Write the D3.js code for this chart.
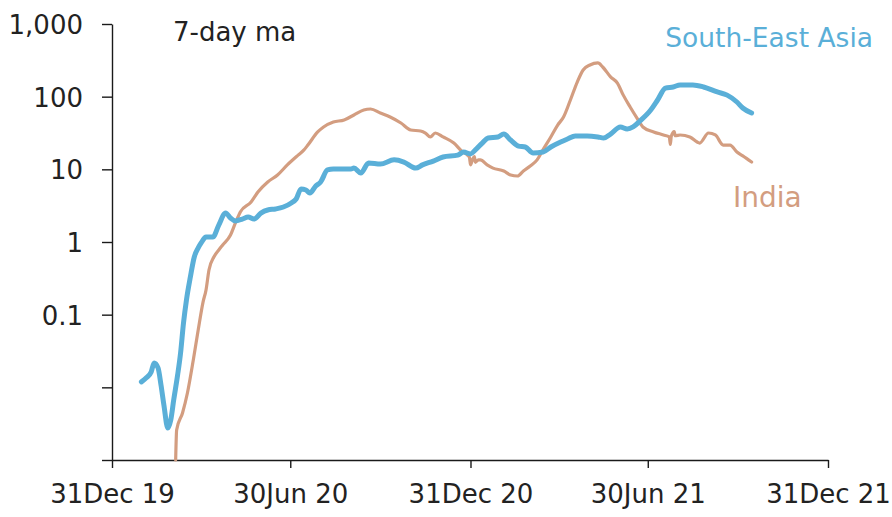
<!DOCTYPE html>
<html>
<head>
<meta charset="utf-8">
<script src="https://cdn.jsdelivr.net/npm/d3@7"></script>
<style>
  body { margin: 0; background: #fff; }
  svg text { font-family: "Century Gothic", "DejaVu Sans", sans-serif; }
</style>
</head>
<body>
<svg id="chart"></svg>
<script>
// South-East Asia, 7-day moving average (log scale)
const seaDates = [
  "2020-01-30","2020-02-04","2020-02-09","2020-02-12","2020-02-16","2020-02-19","2020-02-22","2020-02-26",
  "2020-02-29","2020-03-03","2020-03-07","2020-03-10","2020-03-13","2020-03-16","2020-03-20","2020-03-24",
  "2020-03-28","2020-03-31","2020-04-05","2020-04-12","2020-04-18","2020-04-25","2020-04-30","2020-05-05",
  "2020-05-12","2020-05-18","2020-05-24","2020-05-31","2020-06-07","2020-06-15","2020-06-23","2020-07-01",
  "2020-07-06","2020-07-11","2020-07-16","2020-07-20","2020-07-26","2020-07-31","2020-08-07","2020-08-13",
  "2020-08-31","2020-09-03","2020-09-10","2020-09-18","2020-09-30","2020-10-14","2020-10-24","2020-11-05",
  "2020-11-12","2020-11-23","2020-12-03","2020-12-18","2020-12-24","2020-12-31","2021-01-05","2021-01-12",
  "2021-01-18","2021-01-28","2021-02-03","2021-02-10","2021-02-18","2021-02-25","2021-03-05","2021-03-15",
  "2021-03-23","2021-04-02","2021-04-09","2021-04-17","2021-04-29","2021-05-10","2021-05-16","2021-05-23",
  "2021-06-02","2021-06-09","2021-06-15","2021-06-22","2021-07-03","2021-07-10","2021-07-18","2021-07-26",
  "2021-08-02","2021-08-15","2021-08-26","2021-09-09","2021-09-19","2021-09-29","2021-10-05","2021-10-14"
];
const seaValues = [
  0.0119, 0.0135, 0.0163, 0.0216, 0.0185, 0.0108, 0.0057, 0.00276,
  0.00356, 0.0067, 0.0148, 0.0297, 0.0769, 0.159, 0.33, 0.622,
  0.828, 0.97, 1.17, 1.17, 1.71, 2.51, 2.14, 1.95,
  2.07, 2.21, 2.07, 2.5, 2.76, 2.85, 3.03, 3.44,
  3.91, 5.36, 5.2, 4.72, 5.9, 6.7, 9.8, 10.1,
  10.1, 10.4, 8.9, 12.2, 11.8, 13.5, 12.6, 10.4,
  11.5, 13.0, 14.8, 15.7, 17.3, 16.3, 18.5, 23.0,
  27.0, 27.9, 30.6, 25.3, 20.9, 20.3, 16.8, 17.3,
  20.3, 23.8, 26.1, 28.8, 28.8, 27.9, 27.0, 30.6,
  38.3, 35.9, 38.3, 46.3, 65.6, 90.0, 131, 136,
  145, 145, 136, 116, 105, 84.5, 69.8, 59.6
];

// India, 7-day moving average
const indiaDates = [
  "2020-03-05","2020-03-06","2020-03-12","2020-03-17","2020-03-23","2020-03-28","2020-04-02","2020-04-05",
  "2020-04-08","2020-04-13","2020-04-18","2020-04-22","2020-04-30","2020-05-05","2020-05-10","2020-05-21",
  "2020-05-28","2020-06-07","2020-06-17","2020-06-27","2020-07-08","2020-07-14","2020-07-18","2020-07-28",
  "2020-08-03","2020-08-13","2020-08-24","2020-09-03","2020-09-13","2020-09-20","2020-09-30","2020-10-10",
  "2020-10-21","2020-10-31","2020-11-10","2020-11-15","2020-11-20","2020-11-25","2020-12-03","2020-12-14",
  "2020-12-23","2020-12-28","2020-12-30","2020-12-31","2021-01-02","2021-01-04","2021-01-05","2021-01-08",
  "2021-01-10","2021-01-17","2021-01-23","2021-02-03","2021-02-10","2021-02-17","2021-02-23","2021-03-02",
  "2021-03-09","2021-03-15","2021-03-23","2021-03-30","2021-04-05","2021-04-12","2021-04-19","2021-04-25",
  "2021-05-02","2021-05-10","2021-05-15","2021-05-23","2021-05-30","2021-06-05","2021-06-12","2021-06-19",
  "2021-06-25","2021-07-06","2021-07-16","2021-07-22","2021-07-23","2021-07-24","2021-07-27","2021-07-28",
  "2021-08-02","2021-08-12","2021-08-22","2021-08-31","2021-09-07","2021-09-15","2021-09-22","2021-09-29",
  "2021-10-05","2021-10-14"
];
const indiaValues = [
  0.001, 0.00259, 0.00444, 0.00836, 0.0238, 0.0615, 0.15, 0.219,
  0.412, 0.622, 0.776, 0.91, 1.25, 1.83, 2.59, 3.56,
  4.88, 6.7, 8.36, 11.5, 15.7, 18.5, 21.6, 32.7,
  38.3, 44.8, 47.8, 56.0, 65.6, 67.6, 59.6, 52.5,
  43.4, 34.8, 33.7, 31.6, 27.9, 31.6, 27.9, 23.0,
  17.3, 15.7, 14.5, 11.5, 13.5, 15.0, 12.5, 13.5,
  13.5, 11.5, 10.4, 9.48, 8.36, 8.09, 9.48, 11.1,
  13.5, 18.5, 27.9, 40.7, 52.5, 90.0, 159, 233,
  273, 291, 256, 187, 154, 105, 72.1, 50.8,
  38.3, 32.7, 29.7, 27.9, 22.0, 28.5, 33.0, 29.0,
  29.7, 27.9, 23.0, 31.6, 29.7, 21.6, 21.6, 17.3,
  15.3, 12.6
];

const yTicks = [0.001, 0.01, 0.1, 1, 10, 100, 1000];
const yLabels = ["", "", "0.1", "1", "10", "100", "1,000"];
const xTicks = ["2019-12-31", "2020-06-30", "2020-12-31", "2021-06-30", "2021-12-31"];

const width = 892, height = 517;
const margin = {top: 24, right: 64, bottom: 57, left: 112};

const parse = d3.timeParse("%Y-%m-%d");
const seaData = seaDates.map((d, i) => ({date: parse(d), value: seaValues[i]}));
const indiaData = indiaDates.map((d, i) => ({date: parse(d), value: indiaValues[i]}));

const svg = d3.select("#chart")
    .attr("width", width)
    .attr("height", height);

// scales
const xScale = d3.scaleTime()
    .domain([parse(xTicks[0]), parse(xTicks[xTicks.length - 1])])
    .range([margin.left, width - margin.right]);
const yScale = d3.scaleLog()
    .domain([0.001, 1000])
    .range([height - margin.bottom, margin.top])
    .clamp(true);

// axes
const yAxis = d3.axisLeft(yScale)
    .tickValues(yTicks)
    .tickFormat((d, i) => yLabels[i])
    .tickSize(10)
    .tickSizeOuter(0)
    .tickPadding(19);
const gy = svg.append("g")
    .attr("id", "y-axis")
    .attr("transform", `translate(${margin.left},0)`)
    .call(yAxis);

const xAxis = d3.axisBottom(xScale)
    .tickValues(xTicks.map(parse))
    .tickFormat(d3.timeFormat("%d%b %y"))
    .tickSize(8)
    .tickSizeOuter(0)
    .tickPadding(17);
const gx = svg.append("g")
    .attr("id", "x-axis")
    .attr("transform", `translate(0,${height - margin.bottom})`)
    .call(xAxis);

[gx, gy].forEach(g => {
    g.selectAll("path, line").attr("stroke", "#1a1a1a").attr("stroke-width", 1.4);
    g.selectAll("text").attr("fill", "#222").style("font-size", "26px");
});
gy.selectAll("text").attr("dy", "0.36em");

// lines
const line = d3.line()
    .x(d => xScale(d.date))
    .y(d => yScale(d.value))
    .curve(d3.curveMonotoneX);

svg.append("path")
    .datum(indiaData)
    .attr("d", line)
    .attr("fill", "none")
    .attr("stroke", "#d39d80")
    .attr("stroke-width", 3.2)
    .attr("stroke-linejoin", "round")
    .attr("stroke-linecap", "round");

svg.append("path")
    .datum(seaData)
    .attr("d", line)
    .attr("fill", "none")
    .attr("stroke", "#5aafd8")
    .attr("stroke-width", 5)
    .attr("stroke-linejoin", "round")
    .attr("stroke-linecap", "round");

// labels
svg.append("text")
    .attr("x", 173).attr("y", 41)
    .attr("fill", "#222")
    .style("font-size", "26px")
    .text("7-day ma");

svg.append("text")
    .attr("x", 873).attr("y", 47)
    .attr("text-anchor", "end")
    .attr("fill", "#5aafd8")
    .style("font-size", "26.5px")
    .text("South-East Asia");

svg.append("text")
    .attr("x", 733).attr("y", 207)
    .attr("fill", "#d39d80")
    .style("font-size", "28px")
    .text("India");
</script>
</body>
</html>
